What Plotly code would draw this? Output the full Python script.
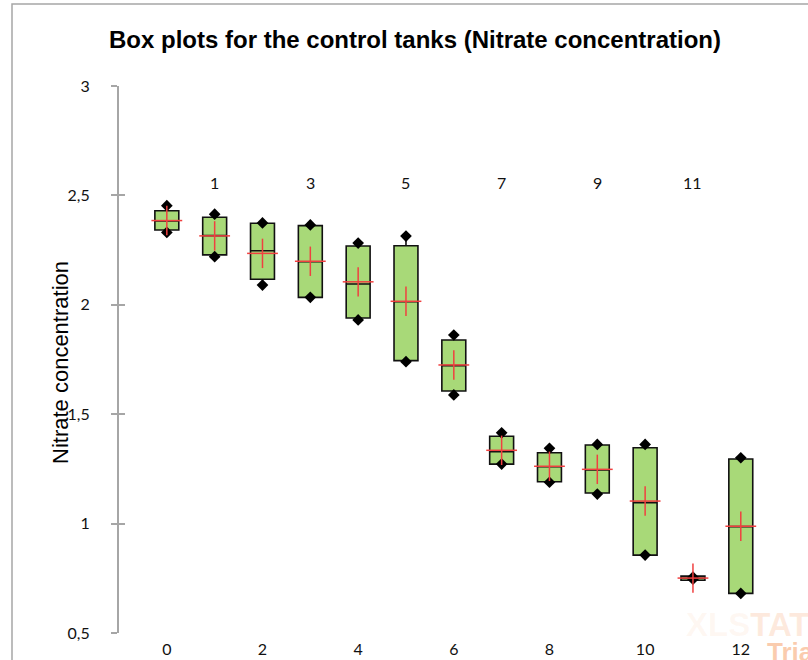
import plotly.graph_objects as go

# ---- data ----
groups = [0, 1, 2, 3, 4, 5, 6, 7, 8, 9, 10, 11, 12]
q1 = [2.342, 2.228, 2.117, 2.034, 1.940, 1.745, 1.606, 1.272, 1.191, 1.140, 0.856, 0.741, 0.681]
median = [2.383, 2.316, 2.247, 2.197, 2.095, 2.014, 1.722, 1.329, 1.260, 1.245, 1.096, 0.750, 0.986]
q3 = [2.430, 2.400, 2.373, 2.362, 2.269, 2.270, 1.839, 1.399, 1.324, 1.359, 1.347, 0.760, 1.295]
minimum = [2.331, 2.220, 2.090, 2.034, 1.931, 1.740, 1.588, 1.272, 1.189, 1.135, 0.856, 0.746, 0.681]
maximum = [2.453, 2.414, 2.374, 2.365, 2.282, 2.314, 1.862, 1.415, 1.344, 1.362, 1.362, 0.755, 1.301]
mean = [2.385, 2.315, 2.235, 2.199, 2.105, 2.016, 1.725, 1.335, 1.262, 1.248, 1.103, 0.751, 0.988]

y_ticks = [0.5, 1, 1.5, 2, 2.5, 3]
y_ticktext = ["0,5", "1", "1,5", "2", "2,5", "3"]
bottom_labels = [g for g in groups if g % 2 == 0]
top_labels = [g for g in groups if g % 2 == 1]

title_text = "Box plots for the control tanks (Nitrate concentration)"
y_title = "Nitrate concentration"

# ---- layout geometry ----
W, H = 808, 660
L, R, T, B = 119, 0, 86, 27
pw, ph = W - L - R, H - T - B
px_per_unit = 47.83
x_range = [-1, -1 + pw / px_per_unit]

def pxx(px):
    return (px - L) / pw

def pxy(py):
    return (H - B - py) / ph

label_font = dict(family="Lato, Open Sans, sans-serif", size=16, color="#111111")
axis_gray = "#A6A6A6"

fig = go.Figure()

fig.add_trace(go.Box(
    x=groups, q1=q1, median=median, q3=q3,
    lowerfence=minimum, upperfence=maximum,
    width=0.5, whiskerwidth=0,
    fillcolor="#A8D978",
    line=dict(color="#111111", width=1.6),
    boxpoints=False, showlegend=False, hoverinfo="skip",
))

fig.add_trace(go.Scatter(
    x=groups + groups, y=minimum + maximum, mode="markers",
    marker=dict(symbol="diamond", size=9, color="black"),
    showlegend=False, hoverinfo="skip",
))

fig.add_trace(go.Scatter(
    x=groups, y=mean, mode="markers",
    marker=dict(symbol="line-ew", size=22, line=dict(color="#F04040", width=1.5)),
    showlegend=False, hoverinfo="skip",
))
fig.add_trace(go.Scatter(
    x=groups, y=mean, mode="markers",
    marker=dict(symbol="line-ns", size=21, line=dict(color="#F04040", width=1.5)),
    showlegend=False, hoverinfo="skip",
))

annotations = []
for g in top_labels:
    annotations.append(dict(
        x=g, y=pxy(183), xref="x", yref="paper", text=str(g),
        showarrow=False, font=label_font, xanchor="center", yanchor="middle",
    ))

annotations.append(dict(
    x=pxx(60), y=pxy(362), xref="paper", yref="paper", text=y_title,
    textangle=-90, showarrow=False,
    font=dict(family="Liberation Sans, Arial, sans-serif", size=22, color="black"),
    xanchor="center", yanchor="middle",
))

# watermark
annotations.append(dict(
    x=pxx(684), y=pxy(624), xref="paper", yref="paper",
    text="<b><span style='color:rgba(248,170,120,0.18)'>XLS</span>"
         "<span style='color:rgba(248,170,120,0.5)'>TAT</span></b>",
    showarrow=False, font=dict(family="Liberation Sans, Arial", size=33, color="rgba(248,170,120,0.5)"),
    xanchor="left", yanchor="middle",
))
annotations.append(dict(
    x=pxx(765), y=pxy(652), xref="paper", yref="paper", text="<b>Trial</b>",
    showarrow=False, font=dict(family="Liberation Sans, Arial", size=26, color="rgba(248,170,120,0.6)"),
    xanchor="left", yanchor="middle",
))

shapes = [dict(
    type="rect", xref="paper", yref="paper",
    x0=pxx(12), x1=pxx(W + 20), y0=pxy(H + 20), y1=pxy(4),
    line=dict(color=axis_gray, width=1.5), fillcolor="rgba(0,0,0,0)", layer="below",
)]

fig.update_layout(
    width=W, height=H,
    margin=dict(l=L, r=R, t=T, b=B, pad=0),
    paper_bgcolor="white", plot_bgcolor="white",
    title=dict(text="<b>" + title_text + "</b>", x=415 / W, xref="container", xanchor="center",
               y=1 - 40 / H, yref="container", yanchor="middle",
               font=dict(family="Liberation Sans, Arial, sans-serif", size=24, color="black")),
    xaxis=dict(range=x_range, tickvals=bottom_labels, ticktext=[str(g) for g in bottom_labels],
               showgrid=False, zeroline=False, showline=False, ticks="",
               tickfont=label_font, ticklabelstandoff=5, fixedrange=True),
    yaxis=dict(range=[0.5, 3], tickvals=y_ticks, ticktext=y_ticktext,
               showgrid=False, zeroline=False, showline=True, linecolor=axis_gray, linewidth=2,
               ticks="outside", ticklen=6, tickcolor=axis_gray, tickwidth=1.5,
               tickfont=label_font, ticklabelstandoff=18),
    yaxis2=dict(range=[0.5, 3], overlaying="y", side="left", tickvals=y_ticks,
                showticklabels=False, showgrid=False, zeroline=False, showline=False,
                ticks="inside", ticklen=6, tickcolor=axis_gray, tickwidth=1.5),
    annotations=annotations, shapes=shapes,
    showlegend=False,
)

# attach an empty trace to yaxis2 so the overlay axis renders
fig.add_trace(go.Scatter(x=[None], y=[None], yaxis="y2", showlegend=False, hoverinfo="skip"))

fig.write_html("out.html", config={"displayModeBar": False},
               post_script="document.body.style.margin='0px';document.body.style.overflow='hidden';")
